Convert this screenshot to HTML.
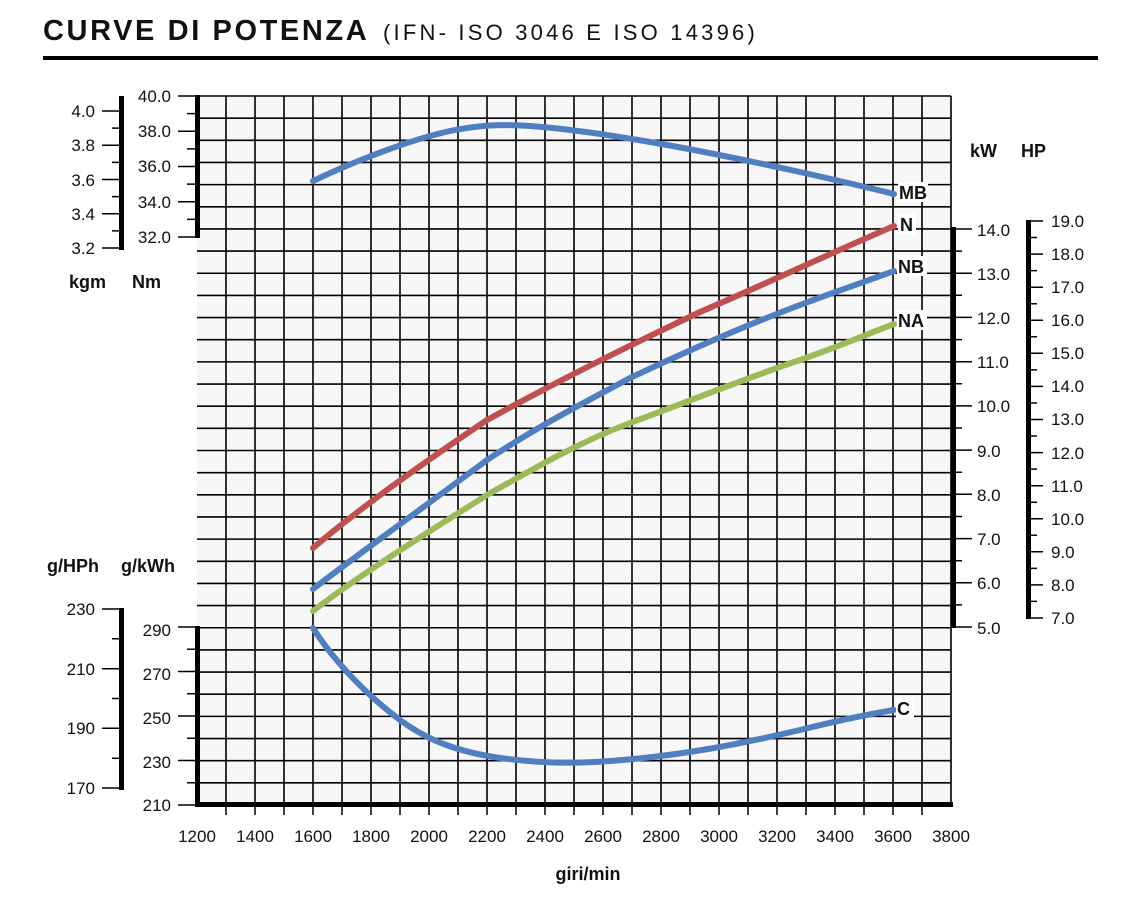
<!DOCTYPE html>
<html><head><meta charset="utf-8"><style>
html,body{margin:0;padding:0;background:#fff;}
svg{display:block;font-family:"Liberation Sans",sans-serif;}
.t{font-size:17px;fill:#111;}
.b{font-size:18px;font-weight:bold;fill:#111;}
</style></head><body>
<svg width="1130" height="898" viewBox="0 0 1130 898" xmlns="http://www.w3.org/2000/svg">
<text x="43" y="40" font-size="29" font-weight="bold" letter-spacing="2.6" fill="#111">CURVE DI POTENZA</text>
<text x="383" y="40" font-size="22" letter-spacing="3.2" fill="#111">(IFN- ISO 3046 E ISO 14396)</text>
<rect x="43" y="56" width="1055" height="4" fill="#000"/>

<rect x="197" y="96" width="754" height="709" fill="#f7f7f7"/>
<path stroke="#000" stroke-width="1.6" fill="none" d="M226 96V805M255 96V805M284 96V805M313 96V805M342 96V805M371 96V805M400 96V805M429 96V805M458 96V805M487 96V805M516 96V805M545 96V805M574 96V805M603 96V805M632 96V805M661 96V805M690 96V805M719 96V805M748 96V805M777 96V805M806 96V805M835 96V805M864 96V805M893 96V805M922 96V805M951 96V805
M197 96H951M197 118.16H951M197 140.31H951M197 162.47H951M197 184.63H951M197 206.78H951M197 228.94H951M197 251.09H951M197 273.25H951M197 295.41H951M197 317.56H951M197 339.72H951M197 361.88H951M197 384.03H951M197 406.19H951M197 428.34H951M197 450.5H951M197 472.66H951M197 494.81H951M197 516.97H951M197 539.13H951M197 561.28H951M197 583.44H951M197 605.59H951M197 627.75H951M197 649.91H951M197 672.06H951M197 694.22H951M197 716.38H951M197 738.53H951M197 760.69H951M197 782.84H951"/>

<!-- Nm axis -->
<rect x="195" y="95" width="5" height="143" fill="#000"/>
<path stroke="#000" stroke-width="1.5" d="M178 96H197M187 113.6H197M178 131.25H197M187 148.9H197M178 166.5H197M187 184.1H197M178 201.75H197M187 219.4H197M178 237H197"/>
<g class="t" text-anchor="end"><text x="171" y="102">40.0</text><text x="171" y="137">38.0</text><text x="171" y="172">36.0</text><text x="171" y="208">34.0</text><text x="171" y="243">32.0</text></g>
<!-- kgm axis -->
<rect x="119" y="96" width="5" height="154" fill="#000"/>
<path stroke="#000" stroke-width="1.5" d="M102 111H121M112 128.1H121M102 145.25H121M112 162.4H121M102 179.5H121M112 196.6H121M102 213.75H121M112 230.9H121M102 248H121"/>
<g class="t" text-anchor="end"><text x="95" y="117">4.0</text><text x="95" y="151">3.8</text><text x="95" y="186">3.6</text><text x="95" y="220">3.4</text><text x="95" y="254">3.2</text></g>
<text x="69" y="288" class="b">kgm</text><text x="132" y="288" class="b">Nm</text>

<!-- kW axis -->
<rect x="951" y="227" width="5" height="401" fill="#000"/>
<path stroke="#000" stroke-width="1.5" d="M953 229H972M953 251.1H962M953 273.2H972M953 295.3H962M953 317.4H972M953 339.6H962M953 361.7H972M953 383.8H962M953 405.9H972M953 428H962M953 450.1H972M953 472.2H962M953 494.3H972M953 516.5H962M953 538.6H972M953 560.7H962M953 582.8H972M953 604.9H962M953 627H972"/>
<g class="t"><text x="977" y="236">14.0</text><text x="977" y="280">13.0</text><text x="977" y="324">12.0</text><text x="977" y="368">11.0</text><text x="977" y="412">10.0</text><text x="977" y="457">9.0</text><text x="977" y="501">8.0</text><text x="977" y="545">7.0</text><text x="977" y="589">6.0</text><text x="977" y="634">5.0</text></g>
<!-- HP axis -->
<rect x="1026" y="220" width="5" height="399" fill="#000"/>
<path stroke="#000" stroke-width="1.5" d="M1028 221H1043M1028 237.5H1037M1028 254.1H1043M1028 270.6H1037M1028 287.2H1043M1028 303.7H1037M1028 320.2H1043M1028 336.8H1037M1028 353.3H1043M1028 369.9H1037M1028 386.4H1043M1028 403H1037M1028 419.5H1043M1028 436H1037M1028 452.6H1043M1028 469.1H1037M1028 485.7H1043M1028 502.2H1037M1028 518.8H1043M1028 535.3H1037M1028 551.8H1043M1028 568.4H1037M1028 584.9H1043M1028 601.4H1037M1028 618H1043"/>
<g class="t"><text x="1051" y="227">19.0</text><text x="1051" y="260">18.0</text><text x="1051" y="293">17.0</text><text x="1051" y="326">16.0</text><text x="1051" y="359">15.0</text><text x="1051" y="392">14.0</text><text x="1051" y="425">13.0</text><text x="1051" y="459">12.0</text><text x="1051" y="492">11.0</text><text x="1051" y="525">10.0</text><text x="1051" y="558">9.0</text><text x="1051" y="591">8.0</text><text x="1051" y="624">7.0</text></g>
<text x="970" y="157" class="b">kW</text><text x="1021" y="157" class="b">HP</text>

<!-- g/kWh axis -->
<rect x="195" y="626" width="5" height="181" fill="#000"/>
<path stroke="#000" stroke-width="1.5" d="M178 627H197M187 649.25H197M178 671.5H197M187 693.75H197M178 716H197M187 738.25H197M178 760.5H197M187 782.75H197M178 805H197"/>
<g class="t" text-anchor="end"><text x="171" y="636">290</text><text x="171" y="680">270</text><text x="171" y="724">250</text><text x="171" y="768">230</text><text x="171" y="811">210</text></g>
<!-- g/HPh axis -->
<rect x="119" y="608" width="5" height="182" fill="#000"/>
<path stroke="#000" stroke-width="1.5" d="M102 609H121M112 638.8H121M102 668.7H121M112 698.5H121M102 728.3H121M112 758.2H121M102 788H121"/>
<g class="t" text-anchor="end"><text x="95" y="615">230</text><text x="95" y="675">210</text><text x="95" y="734">190</text><text x="95" y="794">170</text></g>
<text x="47" y="572" class="b">g/HPh</text><text x="121" y="572" class="b">g/kWh</text>

<!-- x axis -->
<rect x="195" y="802" width="758" height="5" fill="#000"/>
<path stroke="#000" stroke-width="1.5" d="M226 805V815M255 805V815M284 805V815M313 805V815M342 805V815M371 805V815M400 805V815M429 805V815M458 805V815M487 805V815M516 805V815M545 805V815M574 805V815M603 805V815M632 805V815M661 805V815M690 805V815M719 805V815M748 805V815M777 805V815M806 805V815M835 805V815M864 805V815M893 805V815M922 805V815"/>
<g class="t" text-anchor="middle"><text x="197" y="842">1200</text><text x="255" y="842">1400</text><text x="313" y="842">1600</text><text x="371" y="842">1800</text><text x="429" y="842">2000</text><text x="487" y="842">2200</text><text x="545" y="842">2400</text><text x="603" y="842">2600</text><text x="661" y="842">2800</text><text x="719" y="842">3000</text><text x="777" y="842">3200</text><text x="835" y="842">3400</text><text x="893" y="842">3600</text><text x="951" y="842">3800</text></g>
<text x="588" y="880" class="b" text-anchor="middle">giri/min</text>

<!-- curves -->
<g fill="none" stroke-width="6" stroke-linecap="round" stroke-linejoin="round">
<path stroke="#4f7fc0" d="M313 181 C340 168 400 142 450 131 C480 125 500 124 530 126 C600 131 700 150 800 172 C840 181 870 188 894 194"/>
<path stroke="#c0504d" d="M313 548 C360 508 420 465 487 420 C560 380 620 350 700 312 C770 282 840 249 894 226"/>
<path stroke="#4f7fc0" d="M313 589 C360 553 420 510 487 460 C540 425 580 405 630 378 C700 345 760 320 800 305 C840 290 870 280 894 271"/>
<path stroke="#9bbb59" d="M313 611 C360 575 420 537 487 495 C540 465 580 442 630 423 C700 397 760 373 800 360 C840 346 870 333 894 324"/>
<path stroke="#4f7fc0" d="M313 628 C330 655 360 690 400 720 C430 742 460 752 500 758 C540 763 570 764 610 761 C680 756 740 744 800 730 C840 720 870 714 894 710"/>
</g>
<g class="b" font-size="17">
<rect x="898" y="182" width="30" height="20" fill="#fff"/><text x="899" y="199">MB</text>
<rect x="898" y="214" width="18" height="20" fill="#fff"/><text x="900" y="231">N</text>
<rect x="897" y="256" width="30" height="20" fill="#fff"/><text x="898" y="273">NB</text>
<rect x="897" y="310" width="30" height="20" fill="#fff"/><text x="898" y="327">NA</text>
<rect x="896" y="698" width="18" height="20" fill="#fff"/><text x="897" y="715">C</text>
</g>
</svg>
</body></html>
